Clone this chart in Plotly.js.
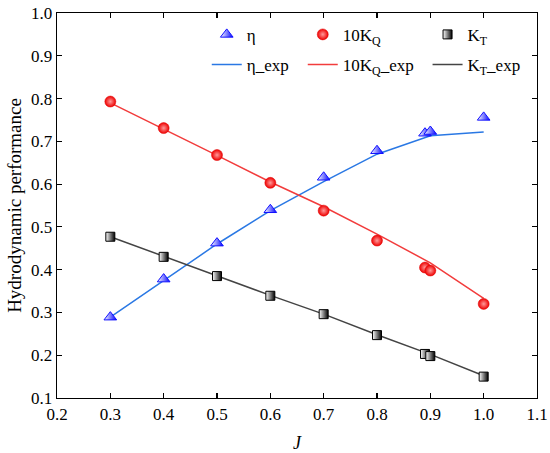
<!DOCTYPE html>
<html>
<head>
<meta charset="utf-8">
<script src="https://cdn.plot.ly/plotly-3.0.1.min.js"></script>
<style>html,body{margin:0;padding:0;background:#fff;}#chart{width:550px;height:453px;}</style>
</head>
<body>
<div id="chart"></div>
<script>
// Measured points
var J = [0.3, 0.4, 0.5, 0.6, 0.7, 0.8, 0.89, 0.9, 1.0];
var eta = [0.289, 0.378, 0.462, 0.540, 0.616, 0.678, 0.719, 0.723, 0.756];
var kq10 = [0.793, 0.731, 0.668, 0.603, 0.538, 0.468, 0.405, 0.398, 0.320];
var kt = [0.477, 0.430, 0.385, 0.339, 0.296, 0.247, 0.203, 0.198, 0.150];

// Experimental curves
var Jexp = [0.3, 0.4, 0.5, 0.6, 0.7, 0.8, 0.9, 1.0];
var etaExp = [0.289, 0.375, 0.460, 0.538, 0.606, 0.670, 0.713, 0.722];
var kq10Exp = [0.790, 0.729, 0.667, 0.605, 0.547, 0.483, 0.416, 0.333];
var ktExp = [0.477, 0.431, 0.386, 0.340, 0.296, 0.248, 0.202, 0.152];

var xTicks = [0.2, 0.3, 0.4, 0.5, 0.6, 0.7, 0.8, 0.9, 1.0, 1.1];
var yTicks = [0.1, 0.2, 0.3, 0.4, 0.5, 0.6, 0.7, 0.8, 0.9, 1.0];
var xTickText = ['0.2', '0.3', '0.4', '0.5', '0.6', '0.7', '0.8', '0.9', '1.0', '1.1'];
var yTickText = ['0.1', '0.2', '0.3', '0.4', '0.5', '0.6', '0.7', '0.8', '0.9', '1.0'];

var FONT = 'Liberation Serif';

var traces = [
  {x: Jexp, y: etaExp, mode: 'lines', name: 'η_exp', line: {color: '#2a78e4', width: 1.5}, legend: 'legend', legendrank: 2, legendgroup: 'a2'},
  {x: Jexp, y: kq10Exp, mode: 'lines', name: '10K<sub>Q</sub>_exp', line: {color: '#f23c3c', width: 1.5}, legend: 'legend2', legendrank: 2, legendgroup: 'b2'},
  {x: Jexp, y: ktExp, mode: 'lines', name: 'K<sub>T</sub>_exp', line: {color: '#444444', width: 1.5}, legend: 'legend3', legendrank: 2, legendgroup: 'c2'},
  {x: J, y: eta, mode: 'markers', name: 'η', legend: 'legend', legendrank: 1, legendgroup: 'a1',
   marker: {symbol: 'triangle-up', size: 11, color: '#ffffff', gradient: {type: 'horizontal', color: '#0000ff'}, line: {color: '#1010ff', width: 1}}},
  {x: J, y: kq10, mode: 'markers', name: '10K<sub>Q</sub>', legend: 'legend2', legendrank: 1, legendgroup: 'b1',
   marker: {symbol: 'circle', size: 11, color: '#ee0000', gradient: {type: 'radial', color: '#ff9a9a'}, line: {color: '#e00000', width: 0.5}}},
  {x: J, y: kt, mode: 'markers', name: 'K<sub>T</sub>', legend: 'legend3', legendrank: 1, legendgroup: 'c1',
   marker: {symbol: 'square', size: 9, color: '#ffffff', gradient: {type: 'horizontal', color: '#000000'}, line: {color: '#000000', width: 1}}}
];

function leg(x) {
  return {x: x, xanchor: 'left', y: 0.99, yanchor: 'top', orientation: 'v', bgcolor: 'rgba(0,0,0,0)',
          font: {family: FONT, size: 17, color: '#000'}, traceorder: 'grouped', tracegroupgap: 5, itemwidth: 30};
}

function axis(range, vals, text, title, tsize, standoff) {
  return {
    range: range, tickmode: 'array', tickvals: vals, ticktext: text,
    showline: true, linecolor: '#000', linewidth: 1.3, mirror: 'ticks',
    ticks: 'inside', ticklen: 5, tickwidth: 1.2, tickcolor: '#000',
    showgrid: false, zeroline: false,
    tickfont: {family: FONT, size: 17, color: '#000'},
    title: {text: title, font: {family: FONT, size: tsize, color: '#000'}, standoff: standoff}
  };
}

var layout = {
  width: 550, height: 453,
  font: {family: FONT, size: 17, color: '#000'},
  margin: {l: 57, r: 13, t: 13, b: 55},
  paper_bgcolor: '#fff', plot_bgcolor: '#fff',
  showlegend: true,
  xaxis: axis([0.2, 1.1], xTicks, xTickText, '<i>J</i>', 18, 13),
  yaxis: axis([0.1, 1.0], yTicks, yTickText, 'Hydrodynamic performance', 19, 4),
  legend: leg(0.312),
  legend2: leg(0.512),
  legend3: leg(0.772)
};

Plotly.newPlot('chart', traces, layout, {displayModeBar: false, staticPlot: true});
</script>
</body>
</html>
